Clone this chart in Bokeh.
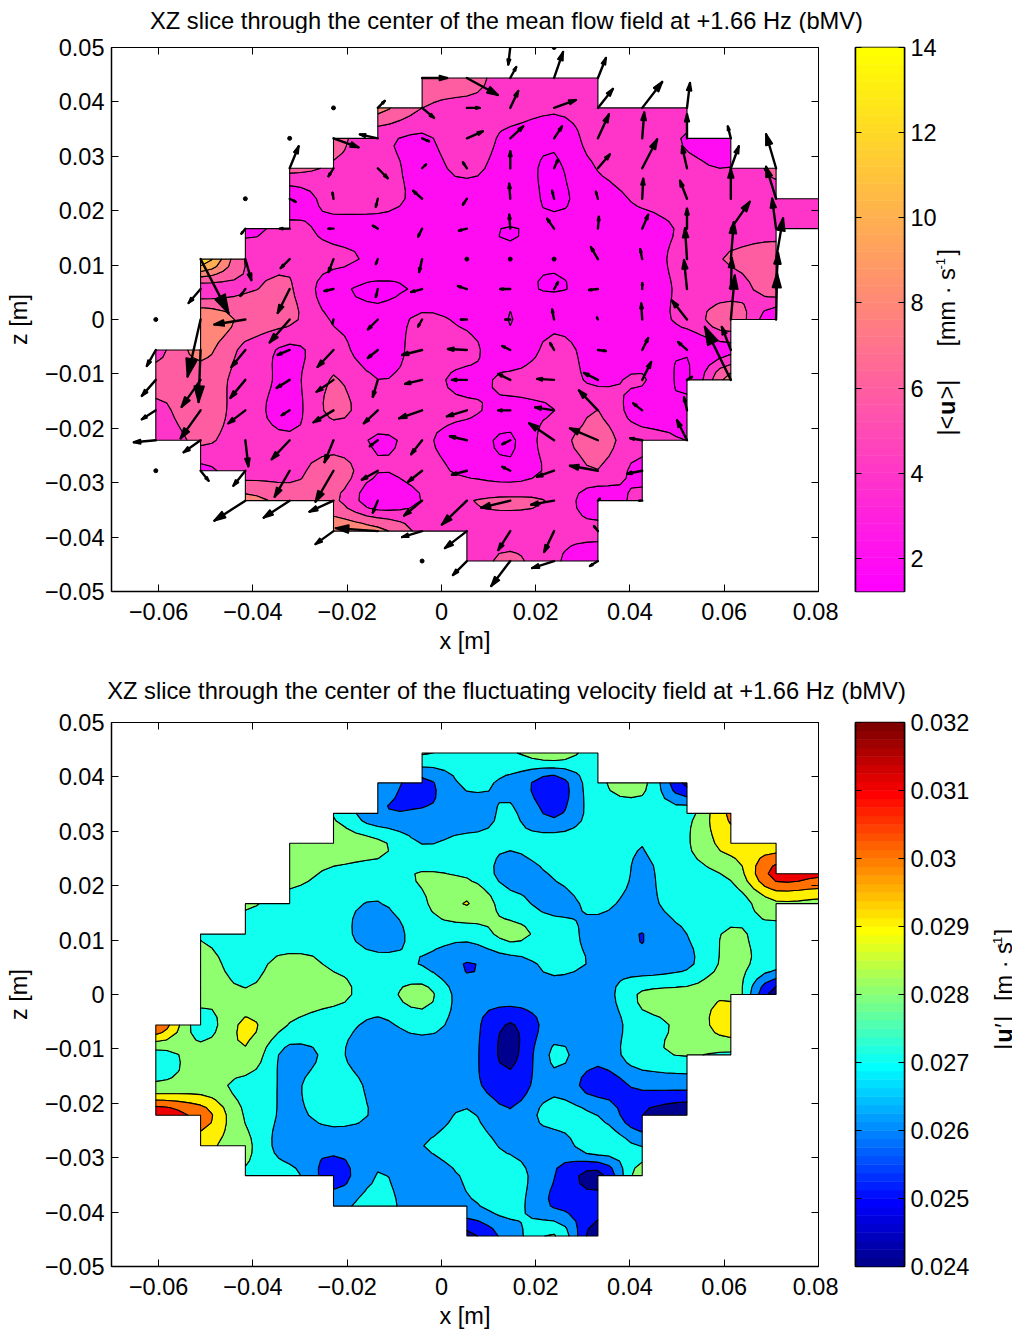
import numpy as np
from contourpy import contour_generator
from bokeh.core.properties import value
from bokeh.embed import file_html
from bokeh.resources import INLINE
from bokeh.layouts import column, row
from bokeh.models import ColumnDataSource, FixedTicker, LinearAxis, Range1d
from bokeh.plotting import figure

_ = None
# grid nodes of the measurement [m]
x_nodes = [-0.0606, -0.0511, -0.0416, -0.0322, -0.0229, -0.0135, -0.0041, 0.0054,
           0.0146, 0.0239, 0.0332, 0.0426, 0.0521, 0.0614, 0.0710, 0.0805]
z_nodes = [0.0444, 0.0389, 0.0333, 0.0278, 0.0222, 0.0167, 0.0111, 0.0056, 0.0,
           -0.0056, -0.0111, -0.0167, -0.0222, -0.0278, -0.0333, -0.0389, -0.0444]
z_quiver_top = 0.05

# |<u>| [mm/s], rows from top to bottom
mean_flow = [
 [_,_,_,_,_,_,7,7,4.8,5,5,_,_,_,_,_],
 [_,_,_,_,_,8.6,6,5.4,5,4.3,5,5.5,5,_,_,_],
 [_,_,_,_,6.6,4.5,3.7,5.3,3.4,2.4,5,5,3.85,2.5,_,_],
 [_,_,_,6.5,5.8,5,3.3,4.5,3,1.7,4.1,5.5,4.4,4.05,6.5,_],
 [_,_,_,2.4,4.9,5,3.4,2.8,3,1.7,2.9,4.4,5,5,5,5],
 [_,_,3.3,4.65,3.3,3,2.8,2.4,1.95,2.4,2.4,3.1,4.3,5,5,5],
 [_,13.5,5.9,5.6,4.6,3.6,2.9,2.2,2.2,2.2,2.8,3,4.85,6.2,7.5,_],
 [_,4.9,5.8,6.2,2.5,1.6,2.2,2.6,2.3,1.9,2.4,2.8,4.5,5,7,_],
 [_,10,7.5,6.4,3.8,2.6,4.4,3.6,1.95,3.4,2.6,3,4.6,7.5,2.1,_],
 [5.4,8.6,5.5,3.6,4.9,2.4,5,4.6,2.5,4.6,3.2,2.6,2.2,3.5,_,_],
 [6.8,7,5.3,3.5,6.15,4.02,4.6,3.5,4.4,5,3.6,4.2,1.7,9,_,_],
 [5.4,7.2,5,3.2,6.5,4.8,4.6,4.3,3.4,3.98,6.02,2.6,2.5,_,_,_],
 [4.5,6.4,4.8,4.3,4.8,3.85,4.2,3,1.7,5.4,6.5,5,3.98,_,_,_],
 [_,3.5,5,5.1,7.4,4.1,4.6,3.6,2.6,4.5,5.95,3.15,_,_,_,_],
 [_,_,8.6,7.4,6.4,2.5,4.05,5.9,6.3,5.8,2.4,4.8,_,_,_,_],
 [_,_,_,_,9.6,8.6,5.5,4.9,4.8,4.5,4.7,_,_,_,_,_],
 [_,_,_,_,_,_,_,4.9,6.5,4.3,2.1,_,_,_,_,_],
]

# |u'| [m/s * 1000], rows from top to bottom
fluct = [
 [_,_,_,_,_,_,28.1,27.6,27.9,28.6,27.5,_,_,_,_,_],
 [_,_,_,_,_,26.5,25.7,27.2,26.75,25.4,27.8,28.3,24.7,_,_,_],
 [_,_,_,_,27.95,26.1,26.1,26.4,27.15,25.8,27.5,27.5,27.6,30.2,_,_],
 [_,_,_,28.5,28.5,28.2,26.97,27.3,27.1,27.5,27.5,27.02,27.9,29.5,29.4,_],
 [_,_,_,28.3,27.85,27.6,28.05,27.85,26.6,27.07,27.7,26.85,27.7,28.2,31.4,31.2],
 [_,_,28.1,27.7,27.3,26.95,27.85,29.05,27.4,26.7,27.2,26.7,27.6,27.35,28.8,28.7],
 [_,27.95,27.5,27.4,27.6,26.2,27.5,27.35,28.3,27.5,26.65,25.98,27.0,28.15,27.55,_],
 [_,28.3,27.7,28.3,27.9,27.5,26.95,25.95,26.55,27.2,26.9,26.3,26.8,28.3,27.4,_],
 [_,28.4,28.1,28.5,28.3,27.6,28.4,26.4,26.6,26.65,26.4,28.15,28.3,28.8,24.4,_],
 [30.9,27.5,29.2,27.95,27.4,26.8,27.35,26.5,24.9,26.5,26.1,27.7,28.2,29.7,_,_],
 [27.6,28.4,28.85,26.6,27.2,26.1,26.3,26.4,24.7,27.2,26.3,27.7,28.05,27.85,_,_],
 [28.15,28.4,27.7,26.85,27.6,26.7,26.4,26.3,25.4,26.7,25.5,26.2,26.3,_,_,_],
 [31.9,30.6,27.9,26.8,27.35,26.9,26.4,27.15,26.13,27.5,26.98,25.0,24.1,_,_,_],
 [_,29.3,28.25,26.3,26.3,26.6,26.98,27.5,26.8,26.3,27.8,26.95,_,_,_,_],
 [_,_,27.9,27.4,25.5,27.05,26.4,27.1,27.5,26.03,24.6,28.7,_,_,_,_],
 [_,_,_,_,26.7,27.4,26.4,26.8,27.4,25.9,25.6,_,_,_,_,_],
 [_,_,_,_,_,_,_,24.7,26.45,28.1,24.2,_,_,_,_,_],
]

# quiver components (arrow length units), rows z = 0.05, then z_nodes
quiver_u = [
 [_,_,_,_,_,_,_,_,-2,0,_,_,_,_,_,_],
 [_,_,_,_,_,_,25,31,6,9,8,_,_,_,_,_],
 [_,_,_,_,0,7,12,13,8,22,15,20,3,_,_,_],
 [_,_,_,0,25,-18,7,16,13,8,11,2,0,-3,_,_],
 [_,_,_,9,-5,10,4,-4,0,4,12,15,-5,8,-10,_],
 [_,_,0,6,-1,-2,-9,-4,-1,-2,-2,1,-7,0,-10,0],
 [_,_,-4,-10,-5,-5,-4,-8,-1,-7,1,6,0,19,-4,_],
 [_,28,6,-9,-5,-2,-3,0,0,0,-7,-2,-2,3,7,_],
 [_,-12,-5,-12,-9,-2,-11,-9,-10,4,-9,0,-3,1,2,_],
 [0,-13,-31,-20,-1,-10,-4,-6,-5,-2,-1,-1,-15,4,1,_],
 [-9,-2,-14,-12,-16,-10,-20,-19,-8,-4,8,6,-9,-9,_,_],
 [-14,-19,-15,-13,-17,-5,-17,-15,-12,-17,-14,9,5,-26,_,_],
 [-14,-20,-17,-8,-20,-14,-23,-20,-12,-19,-19,-9,-3,_,_,_],
 [-22,-17,3,-18,-9,-8,-11,-17,-8,-25,-28,-12,-10,_,_,_],
 [0,8,-12,-15,-18,-16,-14,-15,-8,-17,-28,-15,_,_,_,_],
 [_,_,-31,-26,-24,-5,-18,-25,-29,-23,2,-3,_,_,_,_],
 [_,_,_,_,-18,-42,-20,-22,-12,-10,-4,_,_,_,_,_],
 [_,_,_,_,_,_,0,-14,-19,-22,-8,_,_,_,_,_],
]
quiver_v = [
 [_,_,_,_,_,_,_,_,-17,0,_,_,_,_,_,_],
 [_,_,_,_,_,_,0,-17,11,26,20,_,_,_,_,_],
 [_,_,_,_,0,7,-10,0,17,8,19,26,25,_,_,_],
 [_,_,_,0,-9,4,-3,7,12,12,24,26,24,12,_,_],
 [_,_,_,22,-8,-10,4,6,17,9,14,29,22,22,34,_],
 [_,_,0,-3,6,-8,8,-6,15,8,7,20,18,30,32,14],
 [_,_,-5,0,0,3,-8,-2,14,10,12,14,20,27,30,_],
 [_,-54,-21,-9,-13,-5,-13,0,0,0,12,10,31,37,41,_],
 [_,-14,-7,-24,-2,-8,-3,3,0,7,-1,6,29,31,36,_],
 [0,-57,-5,-23,-4,-10,-7,0,0,10,2,16,19,44,46,_],
 [-16,-52,-17,-5,-17,-8,-5,1,4,7,-1,12,8,23,_,_],
 [-16,-27,-18,-8,-12,-17,-4,0,6,1,7,18,3,53,_,_],
 [-9,-28,-13,-5,-12,-13,-8,-6,0,3,20,7,13,_,_,_],
 [-2,-12,-26,-19,-22,-6,-14,4,-4,17,12,2,20,_,_,_],
 [0,-10,-15,-26,-31,-9,-11,-4,4,-6,5,-3,_,_,_,_],
 [_,_,-20,-17,-11,-12,-15,-24,-7,-4,2,0,_,_,_,_],
 [_,_,_,_,-13,3,-6,-17,-19,-21,5,_,_,_,_,_],
 [_,_,_,_,_,_,0,-14,-25,-7,-5,_,_,_,_,_],
]

x_ticks = [-0.06, -0.04, -0.02, 0, 0.02, 0.04, 0.06, 0.08]
z_ticks = [-0.05, -0.04, -0.03, -0.02, -0.01, 0, 0.01, 0.02, 0.03, 0.04, 0.05]
mean_levels = [1.22, 2, 4, 6, 8, 10, 12, 14]
fluct_levels = [24, 25, 26, 27, 28, 29, 30, 31, 32]
mean_cb_ticks = [2, 4, 6, 8, 10, 12, 14]
fluct_cb_ticks = [0.024, 0.025, 0.026, 0.027, 0.028, 0.029, 0.03, 0.031, 0.032]
title_mean = "XZ slice through the center of the mean flow field at +1.66 Hz (bMV)"
title_fluct = "XZ slice through the center of the fluctuating velocity field at +1.66 Hz (bMV)"

FONT = "Liberation Sans"
FS = "23.5px"
TITLE_FS = "23.7px"


def jet(n=64):
    m = n // 4
    u = [i / m for i in range(1, m + 1)] + [1.0] * (m - 1) + [i / m for i in range(m, 0, -1)]
    out = []
    for i in range(1, n + 1):
        def ch(j):
            return u[j - 1] if 1 <= j <= len(u) else 0.0
        out.append((round(255 * ch(i - 24)), round(255 * ch(i - 8)), round(255 * ch(i + 8))))
    return out


def spring(n=64):
    return [(255, round(255 * i / (n - 1)), round(255 * (1 - i / (n - 1)))) for i in range(n)]


def hexc(c):
    return "#%02x%02x%02x" % c


def lookup(cmap, v, lo, hi):
    i = int(np.floor((v - lo) / (hi - lo) * len(cmap)))
    return hexc(cmap[min(max(i, 0), len(cmap) - 1)])


def minus(v):
    s = ("%g" % abs(v))
    return ("\u2212" + s) if v < 0 else s


def smooth_grid(Z, f=4, s=0.3):
    # contour paths are drawn slightly curved between the read node values
    ny, nx = Z.shape
    out = np.full(((ny - 1) * f + 1, (nx - 1) * f + 1), np.nan)

    def w(t):
        return np.array([-s * t + 2 * s * t * t - s * t ** 3,
                         1 + (s - 3) * t * t + (2 - s) * t ** 3,
                         s * t + (3 - 2 * s) * t * t + (s - 2) * t ** 3,
                         -s * t * t + s * t ** 3])

    for j in range(ny - 1):
        for i in range(nx - 1):
            corners = Z[j:j + 2, i:i + 2]
            if not np.all(np.isfinite(corners)):
                continue
            S = np.zeros((4, 4))
            for m in range(-1, 3):
                for n in range(-1, 3):
                    jj, ii = j + m, i + n
                    if 0 <= jj < ny and 0 <= ii < nx and np.isfinite(Z[jj, ii]):
                        S[m + 1, n + 1] = Z[jj, ii]
                    else:
                        S[m + 1, n + 1] = Z[min(max(jj, j), j + 1), min(max(ii, i), i + 1)]
            lo, hi = corners.min(), corners.max()
            for a in range(f + 1):
                for b in range(f + 1):
                    out[j * f + a, i * f + b] = np.clip(w(a / f) @ S @ w(b / f), lo, hi)
    return out


def make_main(zrows, levels, cmap, top_border, bottom_border, frame_h):
    p = figure(width=838, height=top_border + frame_h + bottom_border,
               x_range=Range1d(-0.07, 0.08), y_range=Range1d(-0.05, 0.05),
               output_backend="svg", toolbar_location=None,
               min_border_left=111, min_border_right=20,
               min_border_top=top_border, min_border_bottom=bottom_border,
               frame_width=707, frame_height=frame_h, background_fill_color="white",
               outline_line_color="black", outline_line_width=1)
    p.grid.visible = False
    f = 4
    Zf = smooth_grid(np.array(zrows, dtype=float)[::-1], f)
    xx = np.interp(np.arange(Zf.shape[1]) / f, np.arange(len(x_nodes)), x_nodes)
    zz = np.interp(np.arange(Zf.shape[0]) / f, np.arange(len(z_nodes)), z_nodes[::-1])
    gen = contour_generator(x=xx, y=zz, z=np.ma.masked_invalid(Zf), name="serial", corner_mask=False,
                            fill_type="OuterOffset")
    for lo, hi in zip(levels[:-1], levels[1:]):
        pts, offs = gen.filled(lo, hi)
        xs, ys = [], []
        for P, O in zip(pts, offs):
            rx = [P[O[i]:O[i + 1], 0].tolist() for i in range(len(O) - 1)]
            ry = [P[O[i]:O[i + 1], 1].tolist() for i in range(len(O) - 1)]
            xs.append([rx])
            ys.append([ry])
        if xs:
            p.multi_polygons(xs=xs, ys=ys,
                             fill_color=lookup(cmap, lo, levels[0], levels[-1]),
                             line_color="black", line_width=1.1)

    for ax in (p.xaxis[0], p.yaxis[0]):
        ax.major_tick_in = 7
        ax.major_tick_out = 0
        ax.minor_tick_in = 0
        ax.minor_tick_out = 0
        ax.axis_line_width = 1.5
        ax.major_tick_line_width = 1
        ax.major_label_text_font = FONT
        ax.major_label_text_font_size = FS
        ax.major_label_text_color = "black"
        ax.axis_label_text_font = FONT
        ax.axis_label_text_font_size = FS
        ax.axis_label_text_font_style = "normal"
        ax.axis_label_text_color = "black"
    p.xaxis[0].ticker = FixedTicker(ticks=x_ticks)
    p.yaxis[0].ticker = FixedTicker(ticks=z_ticks)
    p.xaxis[0].major_label_overrides = {v: minus(v) for v in x_ticks}
    p.yaxis[0].major_label_overrides = {v: minus(v) for v in z_ticks}
    p.xaxis[0].axis_label = "x [m]"
    p.yaxis[0].axis_label = "z [m]"
    p.xaxis[0].major_label_standoff = 11
    p.xaxis[0].axis_label_standoff = 5
    p.yaxis[0].major_label_standoff = 7
    p.yaxis[0].axis_label_standoff = 10
    for side, tk in (("above", x_ticks), ("right", z_ticks)):
        a = LinearAxis(ticker=FixedTicker(ticks=tk), major_tick_in=7, major_tick_out=0,
                       minor_tick_in=0, minor_tick_out=0, major_label_standoff=0,
                       major_label_overrides={v: "" for v in tk}, axis_line_width=1)
        p.add_layout(a, side)
    return p


def add_quiver(p, sx, sy):
    zq = [z_quiver_top] + z_nodes
    shaft_x, shaft_y, head_x, head_y, dots_x, dots_y = [], [], [], [], [], []
    for rz, ru, rv in zip(zq, quiver_u, quiver_v):
        for x0, u, v in zip(x_nodes, ru, rv):
            if u is None:
                continue
            if u == 0 and v == 0:
                dots_x.append(x0)
                dots_y.append(rz)
                continue
            a, w = 0.3, 0.09
            b1 = (u - a * u - w * v, v - a * v + w * u)
            b2 = (u - a * u + w * v, v - a * v - w * u)
            shaft_x.append([x0, x0 + u * sx])
            shaft_y.append([rz, rz + v * sy])
            head_x.append([x0 + q[0] * sx for q in ((u, v), b1, b2)])
            head_y.append([rz + q[1] * sy for q in ((u, v), b1, b2)])
    p.multi_line(shaft_x, shaft_y, line_color="black", line_width=2.4, line_cap="round")
    p.patches(head_x, head_y, fill_color="black", line_color="black", line_width=2, line_join="round")
    p.scatter(dots_x, dots_y, size=4, marker="circle", color="black")


def make_bar(cmap, vmin, vmax, ticks, width, top_border, bottom_border, frame_h):
    src = ColumnDataSource(dict(
        left=[0] * len(cmap), right=[1] * len(cmap),
        bottom=[vmin + (vmax - vmin) * i / len(cmap) for i in range(len(cmap))],
        top=[vmin + (vmax - vmin) * (i + 1) / len(cmap) for i in range(len(cmap))],
        color=[hexc(c) for c in cmap]))
    p = figure(width=width, height=top_border + frame_h + bottom_border,
               x_range=Range1d(0, 1), y_range=Range1d(vmin, vmax),
               x_axis_location=None, y_axis_location="right",
               output_backend="svg", toolbar_location=None,
               min_border_left=17, min_border_right=width - 17 - 49,
               min_border_top=top_border, min_border_bottom=bottom_border,
               frame_width=49, frame_height=frame_h,
               outline_line_color="black", outline_line_width=1.5)
    p.grid.visible = False
    p.quad(left="left", right="right", bottom="bottom", top="top", fill_color="color", line_color="color",
           line_width=0.5, source=src)
    ax = p.yaxis[0]
    ax.ticker = FixedTicker(ticks=ticks)
    ax.major_label_overrides = {v: ("%g" % v) for v in ticks}
    ax.major_tick_in = 6
    ax.major_tick_out = 0
    ax.minor_tick_in = 0
    ax.minor_tick_out = 0
    ax.major_label_standoff = 6
    ax.major_label_text_font = FONT
    ax.major_label_text_font_size = FS
    ax.major_label_text_color = "black"
    ax.axis_line_width = 1.5
    left = LinearAxis(ticker=FixedTicker(ticks=ticks), major_tick_in=6, major_tick_out=0,
                      minor_tick_in=0, minor_tick_out=0, major_label_standoff=0,
                      major_label_overrides={v: "" for v in ticks}, axis_line_width=1.5)
    p.add_layout(left, "left")
    return p


def make_text_panel(page_left, page_right, height, frame_top, frame_h, pieces, align="left", angle=np.pi / 2,
                    margin=(0, 0, 0, 0)):
    # a panel whose coordinates are those of the page, for titles and the rotated colour bar labels
    p = figure(width=page_right - page_left, height=height,
               x_range=Range1d(page_left, page_right), y_range=Range1d(-(frame_top + frame_h), -frame_top),
               x_axis_location=None, y_axis_location=None,
               output_backend="svg", toolbar_location=None,
               min_border_left=0, min_border_right=0, min_border_top=0, min_border_bottom=0,
               outline_line_color=None, background_fill_color=None, border_fill_color=None, margin=margin)
    p.grid.visible = False
    for x, y, text, size, style in pieces:
        p.text(x=[x], y=[-y], text=[text], angle=angle, text_align=align, text_baseline="middle",
               text_font=value(FONT), text_font_size=value(size), text_font_style=style, text_color="black")
    return p


jet64 = jet()
spring64 = spring()

PAGE_TOP, T1H, T2H, INNER, BOT1, BOT2, FH = 1, 33, 50, 14, 67, 62, 544
ROW1_TOP = PAGE_TOP + T1H
ROW1_H = INNER + FH + BOT1
T2_TOP = ROW1_TOP + ROW1_H
ROW2_TOP = T2_TOP + T2H
ROW2_H = INNER + FH + BOT2

p1 = make_main(mean_flow, mean_levels, spring64, INNER, BOT1, FH)
add_quiver(p1, 1 / 4717, 1 / 5442)
p2 = make_main(fluct, fluct_levels, jet64, INNER, BOT2, FH)

b1 = make_bar(spring64, 1.22, 14, mean_cb_ticks, 104, INNER, BOT1, FH)
b2 = make_bar(jet64, 0.024, 0.032, fluct_cb_ticks, 136, INNER, BOT2, FH)

t1 = make_text_panel(0, 1012, T1H, PAGE_TOP, T1H, [(506, 21, title_mean, TITLE_FS, "normal")],
                     align="center", angle=0)
t2 = make_text_panel(0, 1012, T2H, T2_TOP, T2H, [(506, 691, title_fluct, TITLE_FS, "normal")],
                     align="center", angle=0)

l1 = make_text_panel(934, 1012, ROW1_H, ROW1_TOP + INNER, FH, [
    (946, 436, "|<", FS, "normal"),
    (946, 415.5, "u", FS, "bold"),
    (946, 400, ">|", FS, "normal"),
    (946, 347, "[mm \u00b7 s", FS, "normal"),
    (940, 270, "-1", "13px", "normal"),
    (946, 256, "]", FS, "normal"),
], margin=(0, 0, 0, -8))
l2 = make_text_panel(974, 1012, ROW2_H, ROW2_TOP + INNER, FH, [
    (1003, 1052, "|", FS, "normal"),
    (1003, 1045, "u", FS, "bold"),
    (1003, 1030, "\u2032", FS, "normal"),
    (1003, 1024, "|", FS, "normal"),
    (1003, 1003, "[m \u00b7 s", FS, "normal"),
    (997, 950, "-1", "13px", "normal"),
    (1003, 937, "]", FS, "normal"),
])

layout = column(t1, row(p1, b1, l1), t2, row(p2, b2, l2), spacing=0)
open("out.html", "w").write(file_html(layout, INLINE))
